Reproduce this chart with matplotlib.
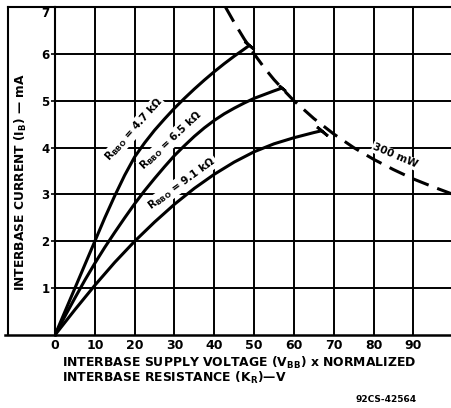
import matplotlib
matplotlib.use("Agg")
import matplotlib.pyplot as plt
from matplotlib.lines import Line2D

plt.rcParams['font.family'] = ['DejaVu Sans']
plt.rcParams['font.weight'] = 'bold'
plt.rcParams['mathtext.fontset'] = 'custom'
plt.rcParams['mathtext.rm'] = 'DejaVu Sans:bold'
plt.rcParams['mathtext.it'] = 'DejaVu Sans:bold'
plt.rcParams['mathtext.bf'] = 'DejaVu Sans:bold'

# ---------------- data ----------------
x_ticks = [0, 10, 20, 30, 40, 50, 60, 70, 80, 90]
y_ticks = [1, 2, 3, 4, 5, 6, 7]

# R_BBO = 4.7 kOhm
V_47 = [0, 2.5, 5, 7.5, 10, 12.5, 15, 17.5, 20, 22.5, 25, 27.5, 30, 32.5, 35,
        37.5, 40, 42.5, 45, 47, 48.8]
I_47 = [0, 0.5, 1.0, 1.5, 2.0, 2.5, 2.97, 3.41, 3.8, 4.1, 4.37, 4.61, 4.84,
        5.05, 5.25, 5.44, 5.62, 5.79, 5.95, 6.07, 6.18]
# R_BBO = 6.5 kOhm
V_65 = [0, 2.5, 5, 7.5, 10, 12.5, 15, 17.5, 20, 22.5, 25, 27.5, 30, 32.5, 35,
        37.5, 40, 42.5, 45, 47.5, 50, 52.5, 55, 57]
I_65 = [0, 0.4, 0.79, 1.17, 1.53, 1.87, 2.19, 2.5, 2.8, 3.08, 3.34, 3.59, 3.83,
        4.04, 4.24, 4.42, 4.58, 4.72, 4.84, 4.95, 5.05, 5.13, 5.21, 5.27]
# R_BBO = 9.1 kOhm
V_91 = [0, 5, 10, 15, 20, 25, 30, 35, 40, 45, 50, 55, 60, 65, 67]
I_91 = [0, 0.54, 1.06, 1.55, 2.0, 2.41, 2.79, 3.13, 3.43, 3.69, 3.91, 4.08,
        4.21, 4.32, 4.36]
# 300 mW dissipation limit
V_300 = [42.8, 45, 47.5, 50, 52.5, 55, 57.5, 60, 65, 70, 75, 80, 85, 90, 95, 99.7]
I_300 = [7.0, 6.67, 6.32, 6.0, 5.71, 5.45, 5.22, 5.0, 4.62, 4.29, 4.0, 3.75,
         3.53, 3.33, 3.16, 3.01]

curve_labels = ["R$_{BBO}$ = 4.7 k\u03a9", "R$_{BBO}$ = 6.5 k\u03a9", "R$_{BBO}$ = 9.1 k\u03a9"]
limit_label = "300 mW"
ylabel = "INTERBASE CURRENT (I$_B$) \u2014 mA"
xlabel1 = "INTERBASE SUPPLY VOLTAGE (V$_{BB}$) x NORMALIZED"
xlabel2 = "INTERBASE RESISTANCE (K$_R$)\u2014V"
code = "92CS-42564"

# ---------------- figure ----------------
W, H = 452, 408
fig = plt.figure(figsize=(W / 100, H / 100), dpi=100)
ax = fig.add_axes([55 / W, 73 / H, 397 / W, 328 / H])
ax.set_xlim(0, 99.7)
ax.set_ylim(0, 7)

ax.set_xticks(x_ticks)
ax.set_yticks(y_ticks)
ax.set_xticklabels([str(v) for v in x_ticks])
ax.set_yticklabels([str(v) for v in y_ticks])
ax.grid(True, color='black', lw=1.4)
ax.tick_params(axis='x', length=0, pad=3, labelsize=9)
ax.tick_params(axis='y', length=3, width=1.2, pad=1, labelsize=8.5)
for lab in ax.get_yticklabels():
    if lab.get_text() == '7':
        lab.set_verticalalignment('top')

ax.spines['right'].set_visible(False)
for s in ['left', 'top']:
    ax.spines[s].set_linewidth(1.5)
ax.spines['bottom'].set_linewidth(1.8)

lw = 2.2
for V, I, ms in [(V_47, I_47, 9), (V_65, I_65, 6), (V_91, I_91, 10)]:
    ax.plot(V, I, color='black', lw=lw, solid_capstyle='butt',
            solid_joinstyle='round', zorder=3)
    # end bar where the curve meets the dissipation limit
    ax.plot(V[-1], I[-1], marker=(2, 2, 50), ms=ms, mew=2, color='black', zorder=3)

ax.plot(V_300, I_300, color='black', lw=lw, dashes=(5.5, 3), zorder=3)

box = dict(facecolor='white', edgecolor='none', pad=0.6)
ax.text(19.8, 4.38, curve_labels[0], rotation=48, rotation_mode='anchor',
        ha='center', va='center', fontsize=7.5, bbox=box, zorder=2.5)
ax.text(29.1, 4.16, curve_labels[1], rotation=43, rotation_mode='anchor',
        ha='center', va='center', fontsize=7.5, bbox=box, zorder=2.5)
ax.text(31.9, 3.24, curve_labels[2], rotation=36, rotation_mode='anchor',
        ha='center', va='center', fontsize=7.5, bbox=box, zorder=2.5)
ax.text(85.4, 3.82, limit_label, rotation=-23, rotation_mode='anchor',
        ha='center', va='center', fontsize=7.5, bbox=box, zorder=2.5)

# outer frame pieces
fig.add_artist(Line2D([8 / W, 8 / W], [73 / H, 401 / H], color='black', lw=1.5))
fig.add_artist(Line2D([8 / W, 55 / W], [401 / H, 401 / H], color='black', lw=1.5))
fig.add_artist(Line2D([5 / W, 55 / W], [73 / H, 73 / H], color='black', lw=1.8))

fig.text(21 / W, 1 - 182 / H, ylabel, rotation=90, ha='center', va='center', fontsize=8.8)
fig.text(62 / W, 1 - 367 / H, xlabel1, ha='left', va='baseline', fontsize=8.9)
fig.text(62 / W, 1 - 382 / H, xlabel2, ha='left', va='baseline', fontsize=8.9)
fig.text(417 / W, 1 - 399 / H, code, ha='right', va='center', fontsize=6.5)

fig.savefig('out.png', dpi=100)
